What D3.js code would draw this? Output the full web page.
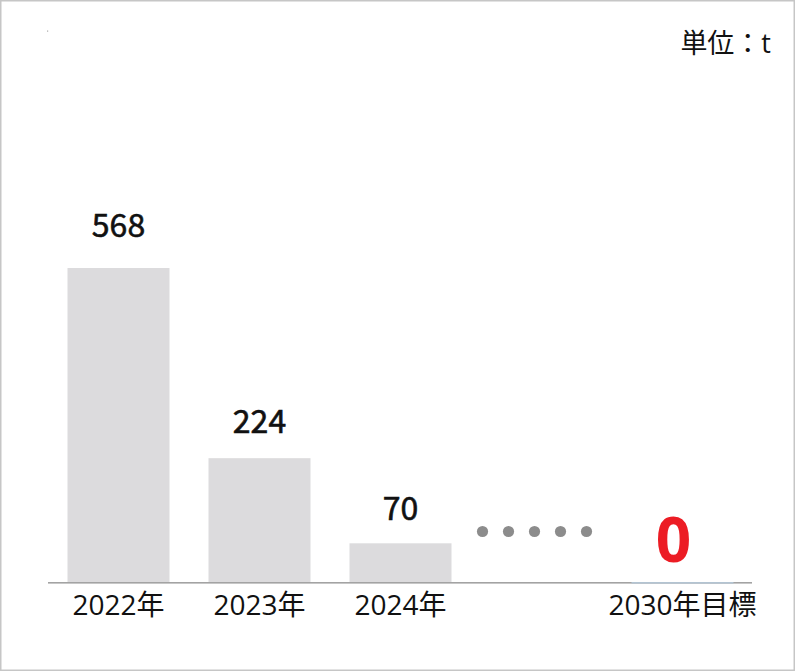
<!DOCTYPE html>
<html><head><meta charset="utf-8">
<script src="https://cdn.jsdelivr.net/npm/d3@7"></script>
<style>
html,body{margin:0;padding:0;background:#fff;}
svg{display:block;}
text{font-family:"Open Sans","Noto Sans CJK JP",sans-serif;}
</style></head>
<body>
<svg id="chart" width="796" height="672"></svg>
<script>
const categories = ["2022年","2023年","2024年","","2030年目標"];
const values = [568, 224, 70, null, 0];
const valueLabels = ["568","224","70","","0"];
const unitLabel = "単位：t";
const dotCount = 5;

const W = 796, H = 672;
const svg = d3.select("#chart");

// frame
svg.append("rect").attr("x",0.75).attr("y",0.75).attr("width",W-2.5).attr("height",H-2.5)
  .attr("fill","#fff").attr("stroke","#c6c6c6").attr("stroke-width",1.5);
svg.append("rect").attr("x",47).attr("y",30.5).attr("width",1.2).attr("height",1.2).attr("fill","#aaa");

const x = d3.scaleBand().domain(d3.range(categories.length)).range([48, 753])
  .paddingInner(0.2766).paddingOuter(0.1383);
const y = d3.scaleLinear().domain([0, 600]).range([582, 582 - 600*0.5528]);

// bars
const barData = values.map((v,i)=>({v,i})).filter(d=>d.v!==null && d.v>0);
svg.selectAll("rect.bar").data(barData).enter().append("rect")
  .attr("class","bar")
  .attr("x",d=>x(d.i)).attr("width",x.bandwidth())
  .attr("y",d=>y(d.v)).attr("height",d=>y(0)-y(d.v))
  .attr("fill","#dcdbdd");

// baseline
svg.append("rect").attr("x",48).attr("y",y(0)).attr("width",704).attr("height",1.6).attr("fill","#a3a3a3");
// zero bar (target)
svg.append("rect").attr("x",x(4)).attr("y",y(0)).attr("width",x.bandwidth()).attr("height",1.6).attr("fill","#b3c4d2");

// value labels
svg.selectAll("text.val").data(barData).enter().append("text")
  .attr("class","val")
  .attr("x",d=>x(d.i)+x.bandwidth()/2)
  .attr("y",d=>y(d.v)-(22+d.v*0.016))
  .attr("text-anchor","middle")
  .style("font-family",'"Noto Sans CJK JP","Open Sans",sans-serif')
  .attr("font-size",32).attr("font-weight",400).attr("fill","#111")
  .attr("stroke","#111").attr("stroke-width",0.6)
  .text(d=>valueLabels[d.i]);

// target zero label
svg.append("text")
  .attr("x",x(4)+x.bandwidth()/2-9).attr("y",y(values[4])-20)
  .attr("text-anchor","middle").attr("font-size",62).attr("font-weight",700)
  .attr("fill","#ec1c24").text(valueLabels[4]);

// dots
const dotCx = x(3)+x.bandwidth()/2-7;
svg.selectAll("circle.dot").data(d3.range(dotCount)).enter().append("circle")
  .attr("class","dot")
  .attr("cx",d=>dotCx+(d-(dotCount-1)/2)*26)
  .attr("cy",531.5).attr("r",5.6).attr("fill","#8c8c8c");

// category labels
svg.selectAll("text.cat").data(categories.map((c,i)=>({c,i})).filter(d=>d.c)).enter().append("text")
  .attr("class","cat")
  .attr("x",d=>x(d.i)+x.bandwidth()/2)
  .attr("y",615)
  .attr("text-anchor","middle")
  .attr("font-size",28).attr("fill","#111")
  .text(d=>d.c);

// unit
svg.append("text").attr("x",771).attr("y",53).attr("text-anchor","end")
  .attr("font-size",27).attr("fill","#111").text(unitLabel);
</script>
</body></html>
